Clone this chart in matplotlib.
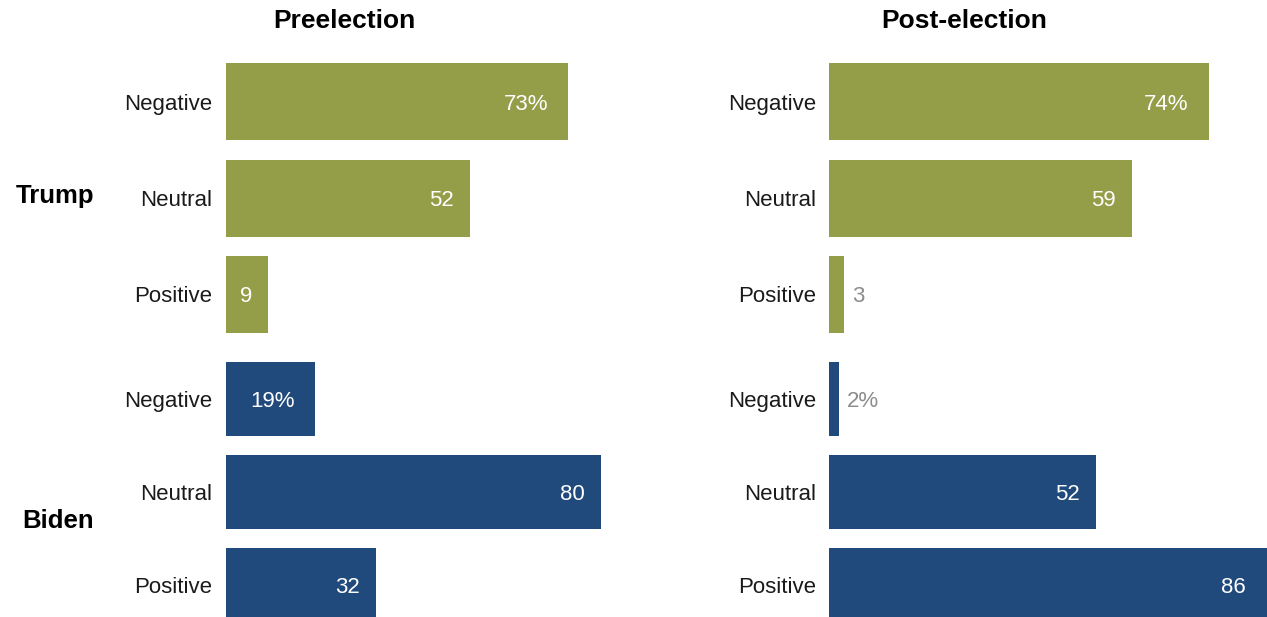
import matplotlib
matplotlib.use("Agg")
import matplotlib.pyplot as plt

# Tone of coverage for each candidate, before and after the election (%)
categories = ["Negative", "Neutral", "Positive"]
candidates = ["Trump", "Biden"]
periods = ["Preelection", "Post-election"]

trump_pre = [73, 52, 9]
biden_pre = [19, 80, 32]
trump_post = [74, 59, 3]
biden_post = [2, 52, 86]

GREEN = "#949D48"
BLUE = "#214A7C"
GRAY = "#8C8C8C"
FONT = ["Liberation Sans", "DejaVu Sans"]

W, H = 1267, 617
DPI = 100
fig = plt.figure(figsize=(W / DPI, H / DPI), dpi=DPI)
fig.patch.set_facecolor("white")


def px_axes(x0, y0, w, h):
    """Axes placed with pixel coordinates measured from the top-left corner."""
    return fig.add_axes([x0 / W, 1 - (y0 + h) / H, w / W, h / H])


# panel geometry: left edge of bars and pixels per percentage point
panels = [
    dict(title=periods[0], x0=226, scale=4.685, label_right=212, title_x=344,
         data=[trump_pre, biden_pre]),
    dict(title=periods[1], x0=829, scale=5.13, label_right=816, title_x=964,
         data=[trump_post, biden_post]),
]
# vertical span of the Trump and Biden groups
groups = [dict(top=53.6, bottom=342.5, color=GREEN),
          dict(top=352.7, bottom=631.0, color=BLUE)]

for panel in panels:
    for g, values in zip(groups, panel["data"]):
        ax = px_axes(panel["x0"], g["top"], panel["scale"] * 100,
                     g["bottom"] - g["top"])
        ax.set_xlim(0, 100)
        ax.set_ylim(len(categories) - 0.5, -0.5)
        ax.axis("off")
        ypos = list(range(len(categories)))
        ax.barh(ypos, values, height=0.8, color=g["color"], linewidth=0)

        for i, (cat, v) in enumerate(zip(categories, values)):
            # category label to the left of the bar
            yc = ax.transData.transform((0, i))[1]
            fig.text(panel["label_right"] / W, yc / H, cat, ha="right",
                     va="center_baseline", fontsize=16, family=FONT,
                     color="#1a1a1a")

            txt = f"{v}%" if i == 0 else f"{v}"
            xe = ax.transData.transform((v, i))[0]
            if v >= 5:
                pad = 20 if i == 0 else 16
                xr = min(xe, W - 5) - pad
                fig.text(xr / W, yc / H, txt, ha="right", va="center_baseline",
                         fontsize=16, family=FONT, color="white")
            else:
                fig.text((xe + 8) / W, yc / H, txt, ha="left",
                         va="center_baseline", fontsize=16, family=FONT,
                         color=GRAY)

    fig.text(panel["title_x"] / W, 1 - 28 / H, panel["title"], ha="center",
             va="baseline", fontsize=19, fontweight="bold", family=FONT,
             color="black")

# candidate group labels
fig.text(94 / W, 1 - 203 / H, candidates[0], ha="right", va="baseline",
         fontsize=18.5, fontweight="bold", family=FONT, color="black")
fig.text(94 / W, 1 - 528 / H, candidates[1], ha="right", va="baseline",
         fontsize=18.5, fontweight="bold", family=FONT, color="black")

fig.savefig("out.png", dpi=DPI, facecolor="white")
